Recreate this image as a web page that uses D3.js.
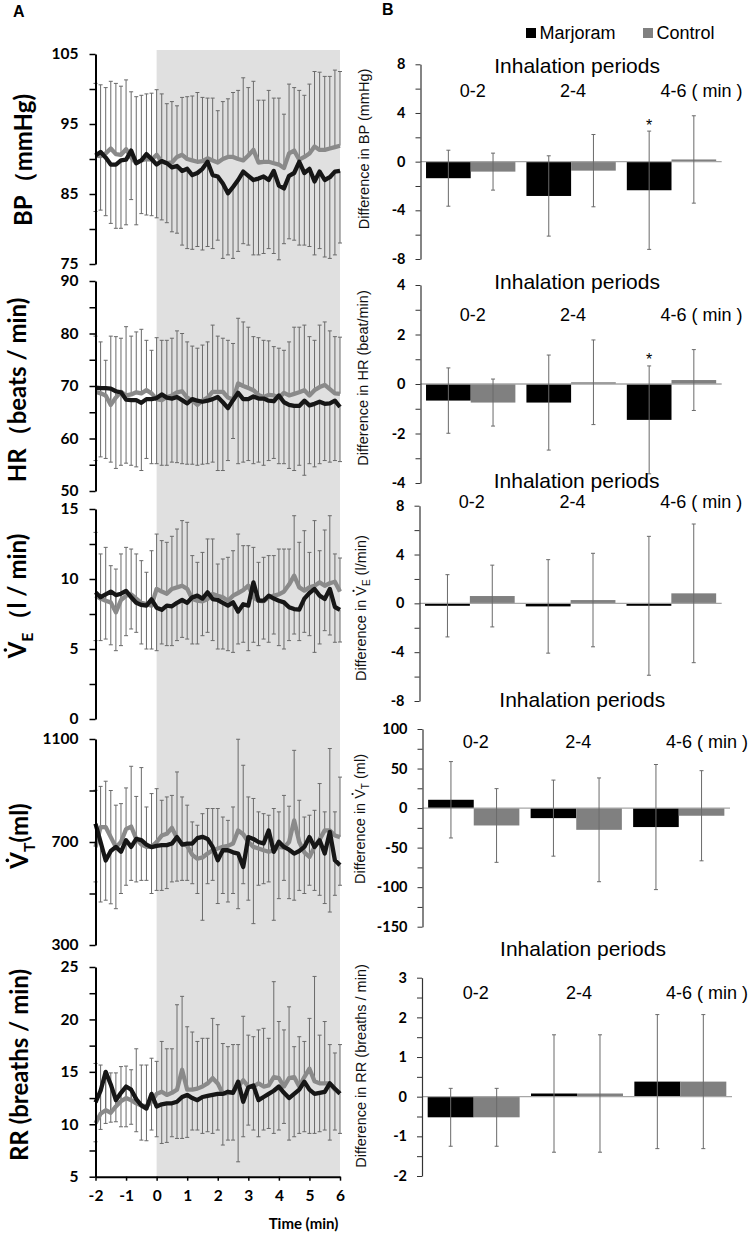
<!DOCTYPE html>
<html><head><meta charset="utf-8">
<script src="https://cdnjs.cloudflare.com/ajax/libs/d3/7.8.5/d3.min.js"></script>
<style>body{margin:0;background:#fff}svg{display:block}</style>
</head><body>
<svg id="c" width="751" height="1234"></svg>
<script>
// ---------- DATA ----------
// time points (seconds, every 10 s from -2 to 6 min)
const timeSec = [-120,-110,-100,-90,-80,-70,-60,-50,-40,-30,-20,-10,0,10,20,30,40,50,60,70,80,90,100,110,120,130,140,150,160,170,180,190,200,210,220,230,240,250,260,270,280,290,300,310,320,330,340,350,360];
const timeTicks = [-2,-1,0,1,2,3,4,5,6];

const bpMarjoram = [90.5,91.0,90.2,89.2,89.2,89.8,89.9,91.2,89.4,89.8,90.7,90.0,89.2,89.7,89.4,88.8,89.0,88.3,88.6,87.7,88.0,88.6,89.6,87.7,87.5,86.5,85.1,86.0,87.0,88.2,87.6,87.0,87.2,87.5,87.0,88.3,86.2,85.8,87.6,88.0,89.6,88.0,88.6,86.8,88.2,87.0,87.4,88.2,88.3];
const bpControl = [90.5,90.4,90.8,91.5,90.7,90.6,91.4,90.2,89.4,89.8,90.0,89.9,90.6,89.6,89.4,89.5,90.3,90.6,90.0,89.8,89.6,89.7,90.1,89.8,89.5,90.0,90.3,90.3,90.0,89.8,90.5,91.3,89.5,89.6,89.6,89.4,89.2,88.7,90.8,91.2,89.9,90.3,90.8,91.8,91.3,91.3,91.5,91.7,91.9];
const bpUpper = [100.8,100.6,100.2,101.1,100.8,100.4,101.3,99.6,98.9,99.1,99.3,99.4,99.9,99.3,97.9,98.2,97.6,98.8,98.9,99.0,99.5,98.8,98.7,98.7,96.9,98.2,98.6,99.5,99.8,101.6,100.2,101.1,98.4,98.4,99.8,98.7,98.7,96.4,100.7,100.2,99.8,99.1,100.7,102.5,102.4,101.8,101.8,102.7,102.5];
const bpLower = [82.5,82.7,81.9,80.8,80.1,80.1,80.6,84.2,80.6,82.2,82.0,81.9,81.6,81.3,80.9,79.6,79.4,77.7,77.2,77.1,77.5,77.0,77.5,77.2,78.4,75.8,76.3,75.8,76.8,77.9,77.7,76.3,76.3,76.5,77.2,76.5,75.6,77.9,78.6,78.4,77.7,77.7,77.5,76.3,77.2,76.0,75.8,76.3,78.0];

const hrMarjoram = [69.7,69.6,69.6,69.5,69.0,68.8,67.4,67.3,67.3,66.8,67.5,67.5,67.7,68.4,67.8,67.6,67.9,67.3,66.7,67.5,67.2,67.0,67.2,67.5,67.9,66.9,65.8,67.3,68.7,67.5,67.5,68.0,67.6,67.6,67.2,67.1,68.2,66.9,66.4,66.2,66.2,67.2,66.3,66.6,67.0,66.6,66.7,67.2,66.0];
const hrControl = [68.9,68.6,68.2,66.4,67.8,68.9,68.2,68.4,68.8,68.6,69.2,68.6,67.5,67.3,67.9,68.2,68.8,69.0,67.8,67.2,66.4,67.2,67.8,68.9,68.9,68.9,67.8,67.4,70.5,70.0,69.6,69.2,68.3,67.9,68.3,68.2,67.8,68.7,68.2,68.5,68.8,69.2,68.2,69.2,69.8,70.2,69.4,68.6,68.5];
const hrUpper = [79.5,78.4,74.9,79.5,79.4,79.1,81.3,79.5,80.3,80.8,78.7,76.8,79.2,78.7,78.7,79.1,80.5,80.0,78.4,77.6,77.2,77.8,78.4,81.6,79.5,79.1,78.7,78.1,82.9,82.2,81.2,79.4,79.2,78.7,78.6,77.5,77.2,76.8,78.4,81.2,81.2,81.6,79.4,78.7,81.6,82.2,80.5,79.4,79.3];
const hrLower = [55.8,56.5,56.2,55.5,54.3,54.9,55.3,54.9,54.6,53.9,56.2,55.2,55.2,54.9,54.9,55.5,55.4,55.2,55.1,55.1,54.9,55.1,55.2,55.5,53.9,53.9,55.8,60.0,55.2,55.5,55.8,55.2,55.5,54.9,55.8,56.2,55.2,55.2,54.3,53.9,54.9,53.0,55.2,54.6,55.2,55.8,55.5,55.8,55.6];

const veMarjoram = [9.05,8.7,8.9,9.1,8.85,8.95,9.15,8.7,8.3,8.15,8.1,8.55,7.95,7.8,8.1,8.05,8.3,8.5,8.3,8.69,8.81,8.6,9.05,8.57,8.5,8.3,8.1,8.33,7.67,8.2,8.1,9.76,8.45,8.45,8.81,8.6,8.45,8.33,7.98,7.85,7.81,8.6,9.0,9.29,8.81,8.57,9.29,8.0,7.8];
const veControl = [8.81,8.6,8.45,8.33,7.62,8.5,8.8,8.9,8.6,8.3,8.21,8.1,9.29,9.1,8.95,9.29,9.4,9.52,9.3,8.57,8.45,8.4,8.57,8.93,8.8,8.69,8.45,8.81,9.0,9.2,9.52,8.69,8.45,8.4,8.69,8.81,8.9,9.1,9.6,10.24,9.4,9.17,9.4,9.52,9.76,9.52,9.7,9.8,9.1];
const veUpper = [13.33,11.79,12.26,10.95,10.71,11.79,12.26,12.14,11.79,11.31,10.48,12.02,13.21,12.74,12.62,13.05,13.57,14.17,14.05,11.67,11.19,11.9,12.86,12.86,11.07,11.43,11.55,12.02,13.21,12.38,12.38,12.26,11.19,11.55,11.67,11.67,12.14,12.14,12.14,14.52,12.62,13.45,11.9,14.17,12.02,13.5,14.52,11.79,11.5];
const veLower = [5.60,5.60,5.71,5.3,4.88,5.24,5.95,6.43,6.19,5.36,5.0,5.0,4.88,5.36,5.24,5.24,5.60,5.83,5.71,5.36,5.36,5.95,6.19,5.60,5.0,5.0,4.88,4.76,5.36,5.48,4.88,5.48,5.24,5.71,5.48,6.07,5.24,5.0,5.60,6.07,5.60,6.19,5.95,4.76,5.36,6.31,6.0,5.48,5.5];

const vtMarjoram = [771,700,628,665,681,662,707,681,712,707,690,680,685,688,688,694,719,690,694,694,715,720,712,681,629,668,668,660,655,603,719,712,700,694,745,662,701,681,670,655,665,681,719,681,707,655,739,629,610];
const vtControl = [680,758,758,719,680,700,750,760,712,690,681,681,700,725,732,755,715,694,685,650,635,640,655,668,675,681,685,694,745,730,700,681,675,668,662,668,681,678,700,784,700,660,642,681,710,745,745,725,719];
const vtUpper = [901,916,936,900,843,849,910,994,877,989,836,888,907,862,875,881,972,875,843,778,765,810,830,830,830,797,784,836,1099,998,875,869,817,810,804,830,817,881,839,1056,862,797,804,823,927,817,1063,817,952];
const vtLower = [545,467,474,460,441,500,532,551,545,551,551,500,512,512,519,545,548,551,551,538,500,396,538,551,461,500,467,500,441,538,474,383,532,538,545,396,480,551,480,474,512,500,532,512,493,461,428,493,532];

const rrMarjoram = [12.1,13.2,15.0,13.8,12.3,13.0,13.6,13.3,12.4,11.8,11.5,12.9,11.7,11.9,12.0,12.0,12.15,12.6,12.8,12.5,12.3,12.6,12.7,12.8,12.9,12.9,13.1,13.0,14.06,12.15,13.5,13.7,12.3,12.6,12.9,13.2,13.6,13.0,12.5,12.9,13.3,14.06,13.3,12.9,13.0,13.1,13.9,13.4,12.9];
const rrControl = [10.1,11.0,11.35,11.1,11.7,12.2,12.5,12.3,12.0,11.8,11.7,12.15,12.9,13.1,12.8,13.0,13.3,15.2,13.3,13.3,13.4,13.6,13.9,14.4,13.9,12.9,13.0,13.1,13.6,14.2,13.6,13.6,13.9,13.6,13.7,14.5,14.4,13.6,14.4,14.5,13.6,14.5,15.3,14.1,13.9,13.9,13.9,13.3,13.0];
const rrUpper = [15.8,15.65,15.0,14.9,14.9,15.5,15.55,15.2,17.2,15.65,15.65,16.3,16.0,17.9,17.2,17.2,21.4,22.2,19.3,18.8,17.9,18.2,18.2,20.1,19.5,17.7,17.4,17.6,17.6,20.3,18.5,18.35,19.0,19.15,18.2,23.6,19.8,19.0,21.2,17.4,18.35,17.9,20.1,24.1,18.5,19.8,17.6,16.8,17.6];
const rrLower = [8.33,9.51,10.08,10.2,10.24,9.76,9.76,10.0,9.29,8.49,8.43,9.45,8.81,8.17,8.27,8.81,8.65,8.65,8.75,9.45,9.45,9.13,9.29,9.13,9.45,8.02,8.49,8.49,6.42,8.81,9.92,9.45,8.81,9.45,9.6,9.13,9.45,10.08,8.49,8.81,9.13,9.29,9.13,9.13,9.29,9.45,8.49,9.45,9.13];

// Panel B: differences by inhalation period
const periods = ['0-2','2-4','4-6'];
const seriesNames = ['Marjoram','Control'];
const bpDiffMarjoram = [-1.36,-2.82,-2.35], bpDiffMarjoramSD = [2.3,3.3,4.86];
const bpDiffControl = [-0.82,-0.74,0.18], bpDiffControlSD = [1.52,2.97,3.59];
const hrDiffMarjoram = [-0.67,-0.75,-1.45], hrDiffMarjoramSD = [1.32,1.92,2.18];
const hrDiffControl = [-0.75,0.07,0.16], hrDiffControlSD = [0.95,1.71,1.23];
const veDiffMarjoram = [-0.2,-0.25,-0.2], veDiffMarjoramSD = [2.55,3.83,5.69];
const veDiffControl = [0.6,0.27,0.82], veDiffControlSD = [2.53,3.83,5.68];
const vtDiffMarjoram = [10.5,-12.7,-24], vtDiffMarjoramSD = [48.3,48.1,79.1];
const vtDiffControl = [-22,-27.5,-9.7], vtDiffControlSD = [46.6,65.6,57];
const rrDiffMarjoram = [-0.52,0.08,0.38], rrDiffMarjoramSD = [0.73,1.48,1.69];
const rrDiffControl = [-0.52,0.08,0.38], rrDiffControlSD = [0.73,1.48,1.69];
const bpSignif = ['','','*'], hrSignif = ['','','*'], noSignif = ['','',''];

// ---------- STYLE / LAYOUT ----------
const C_M = '#161616', C_C = '#8a8a8a', C_ERR = '#6a6a6a';
const LFONT = 'Lato, "Open Sans", sans-serif';
const AFONT = '"Liberation Sans", Arial, sans-serif';
const svg = d3.select('#c');

const x = d3.scaleLinear().domain([-120, 360]).range([95.5, 340]);
const plotTop = 50, plotBottom = 1176.7;

svg.append('rect').attr('x', x(0)).attr('y', plotTop)
  .attr('width', x(360) - x(0)).attr('height', plotBottom - plotTop).attr('fill', '#e0e0e0');

function richText(textSel, parts, fs, subFs) {
  let shift = 0;
  parts.forEach(p => {
    const ts = textSel.append('tspan').text(p.t);
    if (p.sub) { ts.attr('font-size', subFs).attr('dy', fs * 0.3 - shift); shift = fs * 0.3; }
    else if (shift) { ts.attr('dy', -shift); shift = 0; }
  });
  const node = textSel.node();
  let idx = 0;
  parts.forEach(p => {
    if (p.dot) {
      const ext = node.getExtentOfChar(idx);
      d3.select(node.parentNode).append('circle')
        .attr('cx', ext.x + ext.width / 2).attr('cy', -fs * 0.86)
        .attr('r', fs * 0.075).attr('fill', textSel.attr('fill') || '#000');
    }
    idx += p.t.length;
  });
}

const leftPanels = [
  { m: bpMarjoram, c: bpControl, up: bpUpper, lo: bpLower, domain: [75, 105], range: [264, 54],
    major: [75, 85, 95, 105], minor: [80, 90, 100], title: [{t: 'BP（mmHg)'}], tx: 32, ty: 160 },
  { m: hrMarjoram, c: hrControl, up: hrUpper, lo: hrLower, domain: [50, 90], range: [491, 281],
    major: [50, 60, 70, 80, 90], minor: [55, 65, 75, 85], title: [{t: 'HR（beats / min)'}], tx: 26, ty: 390 },
  { m: veMarjoram, c: veControl, up: veUpper, lo: veLower, domain: [0, 15], range: [719, 509],
    major: [0, 5, 10, 15], minor: [2.5, 7.5, 12.5], title: [{t: 'V', dot: true}, {t: 'E', sub: true}, {t: '（l / min)'}], tx: 26, ty: 596 },
  { m: vtMarjoram, c: vtControl, up: vtUpper, lo: vtLower, domain: [300, 1100], range: [945, 739],
    major: [300, 700, 1100], minor: [500, 900], title: [{t: 'V', dot: true}, {t: 'T', sub: true}, {t: '(ml)'}], tx: 28, ty: 836 },
  { m: rrMarjoram, c: rrControl, up: rrUpper, lo: rrLower, domain: [5, 25], range: [1176.7, 967],
    major: [5, 10, 15, 20, 25], minor: [7.5, 12.5, 17.5, 22.5], title: [{t: 'RR (breaths / min)'}], tx: 28, ty: 1065 }
];

leftPanels.forEach((p, k) => {
  const y = d3.scaleLinear().domain(p.domain).range(p.range);
  const g = svg.append('g');
  const eb = g.append('g').attr('stroke', C_ERR).attr('stroke-width', 1).attr('fill', 'none');
  timeSec.forEach((t, i) => {
    const xx = x(t);
    eb.append('line').attr('x1', xx).attr('x2', xx).attr('y1', y(p.c[i])).attr('y2', y(p.up[i]));
    eb.append('line').attr('x1', xx - 2).attr('x2', xx + 2).attr('y1', y(p.up[i])).attr('y2', y(p.up[i]));
    eb.append('line').attr('x1', xx).attr('x2', xx).attr('y1', y(p.m[i])).attr('y2', y(p.lo[i]));
    eb.append('line').attr('x1', xx - 2).attr('x2', xx + 2).attr('y1', y(p.lo[i])).attr('y2', y(p.lo[i]));
  });
  const line = d3.line().x((d, i) => x(timeSec[i])).y(d => y(d));
  g.append('path').datum(p.c).attr('d', line).attr('fill', 'none').attr('stroke', C_C)
    .attr('stroke-width', 4.3).attr('stroke-linejoin', 'round');
  g.append('path').datum(p.m).attr('d', line).attr('fill', 'none').attr('stroke', C_M)
    .attr('stroke-width', 4.3).attr('stroke-linejoin', 'round');

  const ax = g.append('g').attr('transform', `translate(${x(-120)},0)`)
    .call(d3.axisLeft(y).tickValues(p.major).tickSize(6).tickSizeOuter(0).tickPadding(11).tickFormat(d => String(d)));
  ax.select('.domain').attr('stroke', '#000').attr('stroke-width', 2);
  ax.selectAll('.tick line').attr('stroke', '#000').attr('stroke-width', 1.5);
  ax.selectAll('text').attr('font-family', LFONT).attr('font-weight', 'bold').attr('font-size', 15.5).attr('fill', '#000');
  const mx = g.append('g').attr('transform', `translate(${x(-120)},0)`)
    .call(d3.axisLeft(y).tickValues(p.minor).tickSize(6).tickFormat(''));
  mx.select('.domain').remove();
  mx.selectAll('.tick line').attr('stroke', '#000').attr('stroke-width', 1.5);

  const tg = g.append('g').attr('transform', `translate(${p.tx},${p.ty}) rotate(-90)`);
  const tt = tg.append('text').attr('text-anchor', 'middle').attr('font-family', LFONT)
    .attr('font-weight', 'bold').attr('font-size', 24).attr('fill', '#000');
  richText(tt, p.title, 24, 16);

  if (k === leftPanels.length - 1) {
    const xa = svg.append('g').attr('transform', `translate(0,${y(5)})`)
      .call(d3.axisBottom(x).tickValues(timeTicks.map(v => v * 60)).tickSize(4).tickSizeOuter(0).tickPadding(9)
        .tickFormat(d => String(d / 60)));
    xa.select('.domain').attr('stroke', '#000').attr('stroke-width', 2);
    xa.selectAll('.tick line').attr('stroke', '#000').attr('stroke-width', 1.5);
    xa.selectAll('text').attr('font-family', LFONT).attr('font-weight', 'bold').attr('font-size', 15.5).attr('fill', '#000');
  }
});

svg.append('text').attr('x', 303.5).attr('y', 1229).attr('text-anchor', 'middle')
  .attr('font-family', LFONT).attr('font-weight', 'bold').attr('font-size', 15).text('Time (min)');

// panel letters
svg.append('text').attr('x', 13).attr('y', 17).attr('font-family', AFONT).attr('font-weight', 'bold')
  .attr('font-size', 16).text('A');
svg.append('text').attr('x', 382).attr('y', 15).attr('font-family', AFONT).attr('font-weight', 'bold')
  .attr('font-size', 16).text('B');

// legend
const legend = [{name: seriesNames[0], color: '#000', x: 526}, {name: seriesNames[1], color: '#808080', x: 643}];
legend.forEach(l => {
  svg.append('rect').attr('x', l.x).attr('y', 28).attr('width', 10).attr('height', 10).attr('fill', l.color);
  svg.append('text').attr('x', l.x + 13.5).attr('y', 38.5).attr('font-family', AFONT).attr('font-size', 18)
    .attr('fill', '#000').text(l.name);
});

// ---------- PANEL B ----------
const rightPanels = [
  { m: bpDiffMarjoram, mSd: bpDiffMarjoramSD, c: bpDiffControl, cSd: bpDiffControlSD, sig: bpSignif,
    domain: [-8, 8], range: [259, 64.3], major: [-8, -4, 0, 4, 8], minor: [-6, -2, 2, 6], xr: [420.5, 721.7],
    titleY: 72.7, labY: 96.7, ytitle: [{t: 'Difference in BP (mmHg)'}], yx: 369, yy: 149 },
  { m: hrDiffMarjoram, mSd: hrDiffMarjoramSD, c: hrDiffControl, cSd: hrDiffControlSD, sig: hrSignif,
    domain: [-4, 4], range: [483, 285], major: [-4, -2, 0, 2, 4], minor: [-3, -1, 1, 3], xr: [420.5, 721.7],
    titleY: 289, labY: 320.7, ytitle: [{t: 'Difference in HR (beat/min)'}], yx: 368, yy: 378 },
  { m: veDiffMarjoram, mSd: veDiffMarjoramSD, c: veDiffControl, cSd: veDiffControlSD, sig: noSignif,
    domain: [-8, 8], range: [701, 505.7], major: [-8, -4, 0, 4, 8], minor: [-6, -2, 2, 6], xr: [419.5, 721.7],
    titleY: 488, labY: 508.3, ytitle: [{t: 'Difference in '}, {t: 'V', dot: true}, {t: 'E', sub: true}, {t: ' (l/min)'}], yx: 366, yy: 608 },
  { m: vtDiffMarjoram, mSd: vtDiffMarjoramSD, c: vtDiffControl, cSd: vtDiffControlSD, sig: noSignif,
    domain: [-150, 100], range: [926.7, 729], major: [-150, -100, -50, 0, 50, 100], minor: [-125, -75, -25, 25, 75], xr: [422.5, 730],
    titleY: 706.7, labY: 748.3, ytitle: [{t: 'Difference in '}, {t: 'V', dot: true}, {t: 'T', sub: true}, {t: ' (ml)'}], yx: 365, yy: 819 },
  { m: rrDiffMarjoram, mSd: rrDiffMarjoramSD, c: rrDiffControl, cSd: rrDiffControlSD, sig: noSignif,
    domain: [-2, 3], range: [1176, 977.7], major: [-2, -1, 0, 1, 2, 3], minor: [-1.5, -0.5, 0.5, 1.5, 2.5], xr: [422, 732],
    titleY: 955.7, labY: 999.3, ytitle: [{t: 'Difference in RR (breaths / min)'}], yx: 366, yy: 1066 }
];

rightPanels.forEach(p => {
  const y = d3.scaleLinear().domain(p.domain).range(p.range);
  const xb = d3.scaleBand().domain(periods).range(p.xr).paddingInner(0.11).paddingOuter(0.055);
  const xs = d3.scaleBand().domain(seriesNames).range([0, xb.bandwidth()]);
  const g = svg.append('g');
  const rows = periods.map((per, i) => ({per, vals: [
    {s: seriesNames[0], v: p.m[i], sd: p.mSd[i], sig: p.sig[i], color: '#000'},
    {s: seriesNames[1], v: p.c[i], sd: p.cSd[i], sig: '', color: '#808080'}]}));
  rows.forEach(r => r.vals.forEach(d => {
    const bx = xb(r.per) + xs(d.s);
    g.append('rect').attr('x', bx).attr('width', xs.bandwidth())
      .attr('y', Math.min(y(d.v), y(0))).attr('height', Math.abs(y(d.v) - y(0))).attr('fill', d.color);
  }));
  g.append('line').attr('x1', p.xr[0]).attr('x2', p.xr[1]).attr('y1', y(0)).attr('y2', y(0))
    .attr('stroke', '#a6a6a6').attr('stroke-width', 1.3);
  rows.forEach(r => r.vals.forEach(d => {
    const cx = xb(r.per) + xs(d.s) + xs.bandwidth() / 2;
    const t = y(d.v + d.sd), b = y(d.v - d.sd);
    const e = g.append('g').attr('stroke', C_ERR).attr('stroke-width', 1);
    e.append('line').attr('x1', cx).attr('x2', cx).attr('y1', t).attr('y2', b);
    e.append('line').attr('x1', cx - 2).attr('x2', cx + 2).attr('y1', t).attr('y2', t);
    e.append('line').attr('x1', cx - 2).attr('x2', cx + 2).attr('y1', b).attr('y2', b);
    if (d.sig) g.append('text').attr('x', cx).attr('y', t - 0.5).attr('text-anchor', 'middle')
      .attr('font-family', AFONT).attr('font-size', 16).text(d.sig);
  }));
  const ax = g.append('g').attr('transform', `translate(${p.xr[0]},0)`)
    .call(d3.axisLeft(y).tickValues(p.major).tickSize(5).tickSizeOuter(0).tickPadding(10).tickFormat(d => String(d)));
  ax.select('.domain').attr('stroke', '#333').attr('stroke-width', 1.2);
  ax.selectAll('.tick line').attr('stroke', '#333');
  ax.selectAll('text').attr('font-family', LFONT).attr('font-weight', 'bold').attr('font-size', 14.5).attr('fill', '#000');
  const mx = g.append('g').attr('transform', `translate(${p.xr[0]},0)`)
    .call(d3.axisLeft(y).tickValues(p.minor).tickSize(5).tickFormat(''));
  mx.select('.domain').remove();
  mx.selectAll('.tick line').attr('stroke', '#333');

  const cx0 = (p.xr[0] + p.xr[1]) / 2 + 6;
  g.append('text').attr('x', cx0).attr('y', p.titleY).attr('text-anchor', 'middle')
    .attr('font-family', AFONT).attr('font-size', 21).attr('fill', '#000').text('Inhalation periods');
  periods.forEach((per, i) => {
    const c = xb(per) + xb.bandwidth() / 2 + 2;
    if (i < periods.length - 1) {
      g.append('text').attr('x', c).attr('y', p.labY).attr('text-anchor', 'middle')
        .attr('font-family', AFONT).attr('font-size', 18).text(per);
    } else {
      g.append('text').attr('x', Math.min(c - 13, 666)).attr('y', p.labY).attr('text-anchor', 'start')
        .attr('font-family', AFONT).attr('font-size', 18).text(per + ' ( min )');
    }
  });
  const tg = g.append('g').attr('transform', `translate(${p.yx},${p.yy}) rotate(-90)`);
  const tt = tg.append('text').attr('text-anchor', 'middle').attr('font-family', AFONT)
    .attr('font-size', 14.5).attr('fill', '#111');
  richText(tt, p.ytitle, 14.5, 10);
});
</script>
</body></html>
